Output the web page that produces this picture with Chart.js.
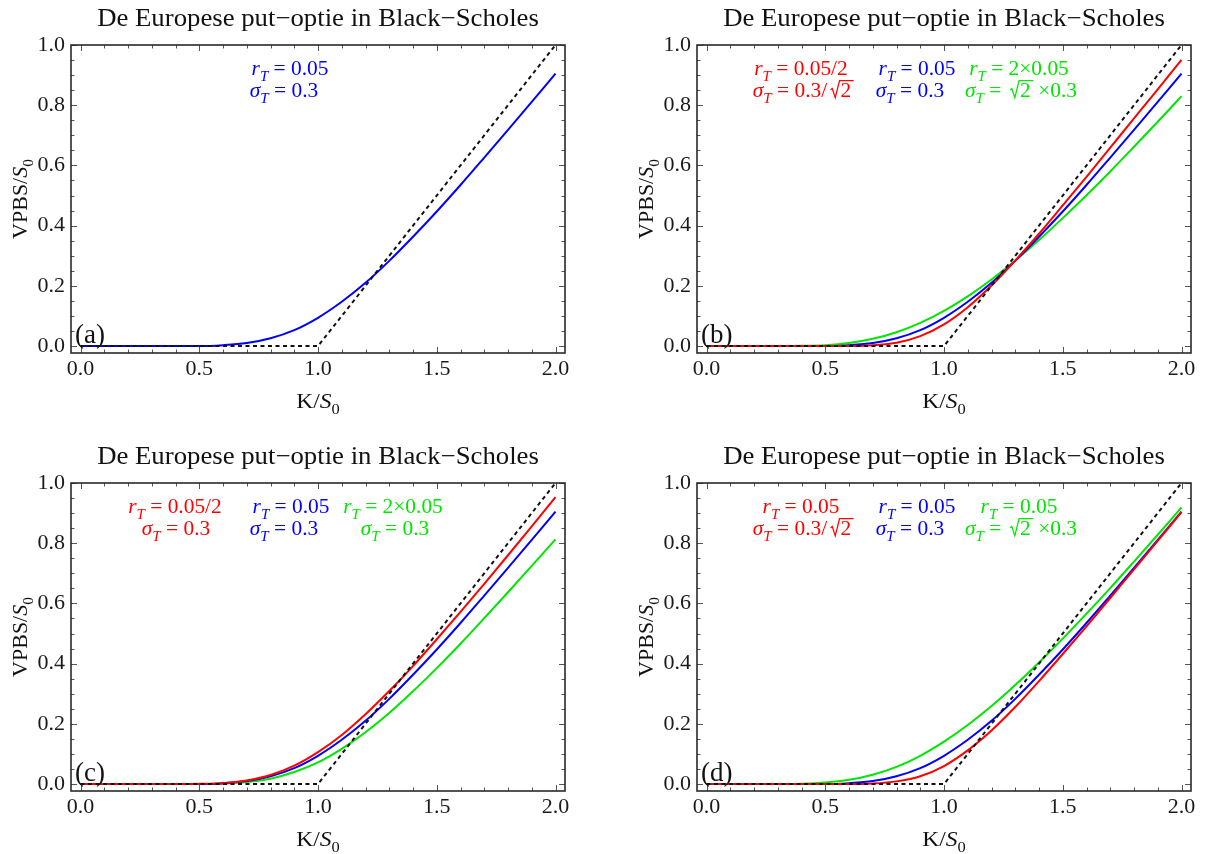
<!DOCTYPE html>
<html>
<head>
<meta charset="utf-8">
<script src="https://cdn.jsdelivr.net/npm/chart.js@4.4.1/dist/chart.umd.min.js"></script>
<style>
body { margin: 0; background: #fff; }
#wrap { position: relative; width: 1207px; height: 854px; overflow: hidden; }
.pan { position: absolute; width: 581px; height: 416px; }
</style>
</head>
<body>
<div id="wrap">
  <div class="pan" style="left:0;top:0"><canvas id="pa" width="581" height="416"></canvas></div>
  <div class="pan" style="left:626px;top:0"><canvas id="pb" width="581" height="416"></canvas></div>
  <div class="pan" style="left:0;top:438px"><canvas id="pc" width="581" height="416"></canvas></div>
  <div class="pan" style="left:626px;top:438px"><canvas id="pd" width="581" height="416"></canvas></div>
</div>
<script>
// K/S0 waarden (x-as)
const kWaarden = [0.0,0.1,0.2,0.3,0.4,0.5,0.6,0.7,0.8,0.9,1.0,1.1,1.2,1.3,1.4,1.5,1.6,1.7,1.8,1.9,2.0];

// VPBS/S0
const blauw  = [0,0,0,0,0,0.000,0.003,0.010,0.026,0.053,0.094,0.147,0.210,0.283,0.363,0.447,0.535,0.626,0.718,0.811,0.905];
const roodB  = [0,0,0,0,0,0,0.000,0.003,0.011,0.033,0.072,0.129,0.201,0.284,0.373,0.467,0.562,0.659,0.756,0.853,0.951];
const groenB = [0,0,0,0,0.001,0.003,0.010,0.024,0.046,0.077,0.117,0.165,0.221,0.284,0.352,0.425,0.501,0.580,0.662,0.745,0.830];
const roodC  = [0,0,0,0,0,0.001,0.003,0.012,0.030,0.061,0.106,0.163,0.232,0.309,0.392,0.481,0.572,0.665,0.760,0.856,0.953];
const groenC = [0,0,0,0,0,0,0.002,0.007,0.018,0.040,0.072,0.117,0.172,0.236,0.308,0.385,0.466,0.551,0.637,0.725,0.813];
const roodD  = [0,0,0,0,0,0,0,0.002,0.009,0.026,0.060,0.112,0.178,0.256,0.342,0.432,0.524,0.618,0.713,0.808,0.903];
const groenD = [0,0,0,0,0.001,0.005,0.014,0.031,0.057,0.094,0.141,0.196,0.259,0.329,0.404,0.483,0.566,0.651,0.739,0.828,0.919];

// uitbetaling max(K/S0 - 1, 0)
const payoffK = [0, 1, 2];
const payoffV = [0, 0, 1];

const xTicks = [0, 0.5, 1.0, 1.5, 2.0];
const yTicks = [0, 0.2, 0.4, 0.6, 0.8, 1.0];

const titel = 'De Europese put\u2212optie in Black\u2212Scholes';

const ROOD = '#ff0000', BLAUW = '#0000ff', GROEN = '#00e600';

// stukjes tekst: cursief, subscript, wortel
const it = t => ({ t: t, it: true });
const sub = t => ({ t: t, it: true, sub: true });
const tx = t => ({ t: t });
const wortel = t => ({ t: t, rad: true });
const rT = v => [it('r'), sub('T'), tx(' = ' + v)];
const sT = (...rest) => [it('\u03c3'), sub('T'), tx(' = ')].concat(rest);

const notaBlauw = [rT('0.05'), sT(tx('0.3'))];
const panelen = [
  { id: 'pa', label: '(a)', lijnen: [[blauw, BLAUW]],
    notas: [[notaBlauw, BLAUW, 290, 284]] },
  { id: 'pb', label: '(b)', lijnen: [[roodB, ROOD], [blauw, BLAUW], [groenB, GROEN]],
    notas: [[[rT('0.05/2'), sT(tx('0.3/'), wortel('2'))], ROOD, 175, 177],
            [notaBlauw, BLAUW, 291, 284],
            [[rT('2\u00d70.05'), sT(wortel('2'), tx(' \u00d70.3'))], GROEN, 393, 395]] },
  { id: 'pc', label: '(c)', lijnen: [[roodC, ROOD], [blauw, BLAUW], [groenC, GROEN]],
    notas: [[[rT('0.05/2'), sT(tx('0.3'))], ROOD, 175, 176],
            [notaBlauw, BLAUW, 291, 284],
            [[rT('2\u00d70.05'), sT(tx('0.3'))], GROEN, 393, 395]] },
  { id: 'pd', label: '(d)', lijnen: [[roodD, ROOD], [blauw, BLAUW], [groenD, GROEN]],
    notas: [[[rT('0.05'), sT(tx('0.3/'), wortel('2'))], ROOD, 175, 177],
            [notaBlauw, BLAUW, 291, 284],
            [[rT('0.05'), sT(wortel('2'), tx(' \u00d70.3'))], GROEN, 393, 395]] }
];

const FAM = '"Liberation Serif", "Times New Roman", serif';

function tekenRijk(ctx, delen, x, y, grootte, kleur, rek) {
  rek = rek || 1;
  const font = d => (d.it ? 'italic ' : '') + (d.sub ? grootte * 0.7 : grootte) + 'px ' + FAM;
  let breedte = 0;
  const maten = delen.map(d => {
    ctx.font = font(d);
    let w = ctx.measureText(d.t).width;
    if (d.rad) w += grootte * 0.72;
    breedte += w;
    return w;
  });
  ctx.save();
  ctx.translate(x, y);
  ctx.scale(rek, 1);
  ctx.fillStyle = kleur;
  ctx.strokeStyle = kleur;
  ctx.textAlign = 'left';
  ctx.textBaseline = 'alphabetic';
  let px = -breedte / 2;
  delen.forEach((d, i) => {
    ctx.font = font(d);
    if (d.rad) {
      const s = grootte;
      px += 0.12 * s;
      ctx.lineWidth = s * 0.06;
      ctx.beginPath();
      ctx.moveTo(px + 0.04 * s, -0.36 * s);
      ctx.lineTo(px + 0.12 * s, -0.42 * s);
      ctx.lineTo(px + 0.26 * s, 0.04 * s);
      ctx.lineTo(px + 0.46 * s, -0.82 * s);
      ctx.lineTo(px + maten[i] - 0.1 * s, -0.82 * s);
      ctx.stroke();
      ctx.fillText(d.t, px + 0.5 * s, 0);
      px -= 0.12 * s;
    } else {
      ctx.fillText(d.t, px, d.sub ? grootte * 0.28 : 0);
    }
    px += maten[i];
  });
  ctx.restore();
}

const kaderPlugin = {
  id: 'kader',
  afterDraw(chart, args, opts) {
    const ctx = chart.ctx;
    const { left, right, top, bottom } = chart.chartArea;
    const xs = chart.scales.x, ys = chart.scales.y;
    ctx.save();
    // tick streepjes naar binnen, op alle vier zijden
    ctx.strokeStyle = '#555';
    ctx.lineWidth = 1;
    ctx.beginPath();
    for (let i = 0; i <= 20; i++) {
      const px = Math.round(xs.getPixelForValue(i / 10)) + 0.5;
      const len = i % 5 === 0 ? 6 : 3.5;
      ctx.moveTo(px, bottom); ctx.lineTo(px, bottom - len);
      ctx.moveTo(px, top); ctx.lineTo(px, top + len);
    }
    for (let i = 0; i <= 20; i++) {
      const py = Math.round(ys.getPixelForValue(i * 0.05)) + 0.5;
      const len = i % 4 === 0 ? 6 : 3.5;
      ctx.moveTo(left, py); ctx.lineTo(left + len, py);
      ctx.moveTo(right, py); ctx.lineTo(right - len, py);
    }
    ctx.stroke();
    // kader
    ctx.strokeStyle = '#2a2a2a';
    ctx.lineWidth = 1.6;
    ctx.strokeRect(left, top, right - left, bottom - top);
    ctx.restore();

    const midden = (left + right) / 2;
    // titel
    tekenRijk(ctx, [tx(titel)], midden, 26, 25, '#111', 1.07);
    // as-titels
    tekenRijk(ctx, [tx('K/'), it('S'), { t: '0', sub: true }], midden, 408, 22, '#111', 1.07);
    ctx.save();
    ctx.translate(27, (top + bottom) / 2);
    ctx.rotate(-Math.PI / 2);
    tekenRijk(ctx, [tx('VPBS/'), it('S'), { t: '0', sub: true }], 0, 0, 22, '#111', 1);
    ctx.restore();
    // paneel label
    ctx.save();
    ctx.font = '27px ' + FAM;
    ctx.fillStyle = '#111';
    ctx.textAlign = 'left';
    ctx.fillText(opts.label, 75, 343);
    ctx.restore();
    // annotaties
    opts.notas.forEach(n => {
      tekenRijk(ctx, n[0][0], n[2], 75, 20, n[1], 1.07);
      tekenRijk(ctx, n[0][1], n[3], 97, 20, n[1], 1.07);
    });
  }
};

function maakPaneel(p) {
  const datasets = [{
    data: payoffK.map((k, i) => ({ x: k, y: payoffV[i] })),
    borderColor: '#111',
    borderWidth: 2,
    borderDash: [4, 3.5],
    pointRadius: 0,
    tension: 0
  }];
  p.lijnen.forEach(l => {
    datasets.push({
      data: kWaarden.map((k, i) => ({ x: k, y: l[0][i] })),
      borderColor: l[1],
      borderWidth: 2,
      pointRadius: 0,
      cubicInterpolationMode: 'monotone'
    });
  });

  const tickFont = { family: FAM, size: 22 };
  new Chart(document.getElementById(p.id), {
    type: 'line',
    data: { datasets: datasets },
    options: {
      responsive: false,
      animation: false,
      layout: { padding: { top: 45, right: 16, bottom: 0, left: 0 } },
      plugins: {
        legend: { display: false },
        tooltip: { enabled: false },
        kader: { label: p.label, notas: p.notas }
      },
      scales: {
        x: {
          type: 'linear',
          min: -0.04,
          max: 2.04,
          afterBuildTicks: s => { s.ticks = xTicks.map(v => ({ value: v })); },
          afterFit: s => { s.height = 63; },
          grid: { display: false, drawTicks: false },
          border: { display: false },
          ticks: { padding: 3, color: '#1a1a1a', font: tickFont, maxRotation: 0,
                   callback: v => Number(v).toFixed(1) }
        },
        y: {
          min: -0.023,
          max: 1.0,
          afterBuildTicks: s => { s.ticks = yTicks.map(v => ({ value: v })); },
          afterFit: s => { s.width = 71; },
          grid: { display: false, drawTicks: false },
          border: { display: false },
          ticks: { padding: 6, color: '#1a1a1a', font: tickFont,
                   callback: v => Number(v).toFixed(1) }
        }
      }
    },
    plugins: [kaderPlugin]
  });
}

panelen.forEach(maakPaneel);
</script>
</body>
</html>
